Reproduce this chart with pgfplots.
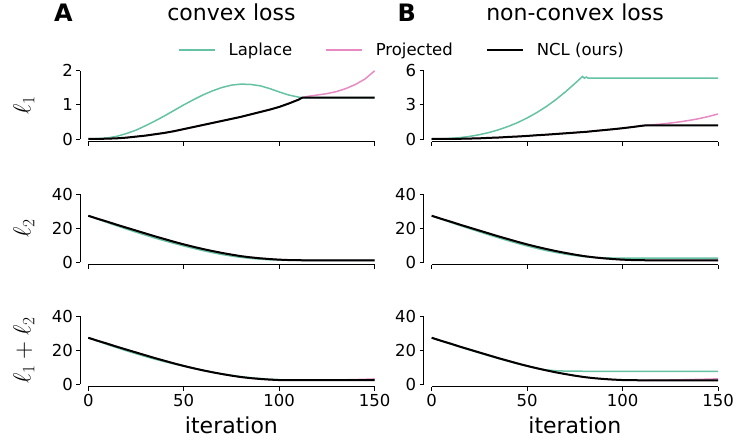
\documentclass[border=0pt]{standalone}
\usepackage{pgfplots}
\pgfplotsset{compat=1.18}
\usepackage{pgfplotstable}
\usepackage{fontspec}
\setmainfont{DejaVu Sans}
\definecolor{lapc}{HTML}{66C2A5}
\definecolor{projc}{HTML}{E78AC3}

\pgfplotstableread{
x lap proj ncl
0 0 0 0
5 0.01 0.003 0.003
10 0.03 0.01 0.01
15 0.08 0.02 0.02
20 0.16 0.04 0.04
25 0.26 0.07 0.07
30 0.39 0.10 0.10
35 0.53 0.14 0.14
40 0.68 0.18 0.18
45 0.84 0.23 0.23
50 1.00 0.29 0.29
55 1.15 0.35 0.35
60 1.29 0.41 0.41
65 1.41 0.47 0.47
70 1.51 0.53 0.53
75 1.58 0.59 0.59
80 1.61 0.65 0.65
85 1.60 0.72 0.72
90 1.56 0.79 0.79
95 1.48 0.86 0.86
100 1.38 0.94 0.94
105 1.29 1.04 1.04
110 1.23 1.15 1.15
112 1.21 1.21 1.21
115 1.21 1.25 1.21
120 1.21 1.29 1.21
125 1.21 1.33 1.21
130 1.21 1.39 1.21
135 1.21 1.48 1.21
140 1.21 1.60 1.21
145 1.21 1.76 1.21
150 1.21 2.00 1.21
}\tabAone

\pgfplotstableread{
x lap proj ncl
0 27.3 27.3 27.3
5 25.3 25.5 25.5
10 23.3 23.8 23.8
15 21.4 22.0 22.0
20 19.5 20.3 20.3
25 17.7 18.6 18.6
30 15.9 16.9 16.9
35 14.2 15.2 15.2
40 12.6 13.6 13.6
45 11.1 12.0 12.0
50 9.6 10.5 10.5
55 8.2 9.1 9.1
60 6.9 7.8 7.8
65 5.7 6.6 6.6
70 4.6 5.5 5.5
75 3.7 4.5 4.5
80 2.9 3.6 3.6
85 2.3 2.9 2.9
90 1.85 2.35 2.35
95 1.5 1.9 1.9
100 1.3 1.55 1.55
105 1.22 1.32 1.32
110 1.2 1.22 1.22
112 1.2 1.2 1.2
120 1.2 1.2 1.2
130 1.2 1.2 1.2
140 1.2 1.2 1.2
150 1.2 1.2 1.2
}\tabAtwo

\pgfplotstableread{
x lap proj ncl
0 27.3 27.3 27.3
5 25.31 25.50 25.50
10 23.33 23.81 23.81
15 21.48 22.02 22.02
20 19.66 20.34 20.34
25 17.96 18.67 18.67
30 16.29 17.00 17.00
35 14.73 15.34 15.34
40 13.28 13.78 13.78
45 11.94 12.23 12.23
50 10.60 10.79 10.79
55 9.35 9.45 9.45
60 8.19 8.21 8.21
65 7.11 7.07 7.07
70 6.11 6.03 6.03
75 5.28 5.09 5.09
80 4.51 4.25 4.25
85 3.90 3.62 3.62
90 3.41 3.14 3.14
95 2.98 2.76 2.76
100 2.68 2.49 2.49
105 2.51 2.40 2.40
110 2.43 2.38 2.38
112 2.41 2.38 2.38
115 2.41 2.42 2.38
120 2.41 2.46 2.38
125 2.41 2.50 2.38
130 2.41 2.56 2.38
135 2.41 2.65 2.38
140 2.41 2.77 2.38
145 2.41 2.93 2.38
150 2.41 3.15 2.38
}\tabAthree

\pgfplotstableread{
x lap proj ncl
0 0 0 0
5 0.013 0.003 0.003
10 0.053 0.01 0.01
15 0.125 0.02 0.02
20 0.232 0.04 0.04
25 0.38 0.06 0.06
30 0.57 0.10 0.10
35 0.81 0.13 0.13
40 1.10 0.18 0.18
45 1.44 0.22 0.22
50 1.85 0.27 0.27
55 2.32 0.33 0.33
60 2.85 0.38 0.38
65 3.46 0.44 0.44
70 4.14 0.50 0.50
75 4.88 0.56 0.56
79 5.50 0.61 0.61
80 5.35 0.62 0.62
81 5.45 0.63 0.63
82 5.35 0.65 0.65
85 5.35 0.70 0.70
90 5.35 0.78 0.78
95 5.35 0.86 0.86
100 5.35 0.95 0.95
105 5.35 1.05 1.05
110 5.35 1.16 1.16
112 5.35 1.20 1.20
115 5.35 1.24 1.20
120 5.35 1.31 1.20
125 5.35 1.40 1.20
130 5.35 1.51 1.20
135 5.35 1.64 1.20
140 5.35 1.79 1.20
145 5.35 1.98 1.20
150 5.35 2.20 1.20
}\tabBone

\pgfplotstableread{
x lap proj ncl
0 27.3 27.3 27.3
5 25.3 25.5 25.5
10 23.4 23.8 23.8
15 21.5 22.0 22.0
20 19.7 20.3 20.3
25 17.9 18.6 18.6
30 16.1 16.9 16.9
35 14.4 15.2 15.2
40 12.7 13.6 13.6
45 11.1 12.0 12.0
50 9.6 10.5 10.5
55 8.2 9.1 9.1
60 6.9 7.8 7.8
65 5.8 6.6 6.6
70 4.8 5.5 5.5
75 4.0 4.5 4.5
80 3.3 3.6 3.6
85 2.85 2.9 2.9
90 2.6 2.35 2.35
95 2.5 1.9 1.9
100 2.45 1.55 1.55
105 2.45 1.32 1.32
110 2.45 1.22 1.22
112 2.45 1.2 1.2
120 2.45 1.2 1.2
130 2.45 1.2 1.2
140 2.45 1.2 1.2
150 2.45 1.2 1.2
}\tabBtwo

\pgfplotstableread{
x lap proj ncl
0 27.3 27.3 27.3
5 25.4 25.50 25.50
10 23.6 23.81 23.81
15 21.8 22.02 22.02
20 20.1 20.34 20.34
25 18.4 18.66 18.66
30 16.75 17.00 17.00
35 15.1 15.33 15.33
40 13.55 13.78 13.78
45 12.05 12.22 12.22
50 10.65 10.77 10.77
55 9.4 9.43 9.43
60 8.45 8.18 8.18
65 7.95 7.04 7.04
70 7.75 6.00 6.00
75 7.68 5.06 5.06
80 7.65 4.22 4.22
85 7.65 3.60 3.60
90 7.65 3.13 3.13
95 7.65 2.76 2.76
100 7.65 2.50 2.50
105 7.65 2.40 2.40
110 7.65 2.36 2.36
112 7.65 2.35 2.35
115 7.65 2.39 2.35
120 7.65 2.45 2.35
125 7.65 2.53 2.35
130 7.65 2.63 2.35
135 7.65 2.75 2.35
140 7.65 2.88 2.35
145 7.65 3.03 2.35
150 7.65 3.20 2.35
}\tabBthree

\pgfplotsset{
  panel/.style={
    scale only axis, width=286.3pt, height=68.2pt,
    anchor=south west,
    xmin=0, xmax=150, ymin=0,
    axis lines=left,
    axis line style={-, line width=0.9pt, black},
    axis x line shift=2.5pt, axis y line shift=8pt,
    tick align=outside, major tick length=4pt,
    tick style={line width=0.9pt, black},
    xtick={0,50,100,150},
    ticklabel style={font=\fontsize{16.5}{19}\selectfont},
    /pgf/number format/assume math mode=true,
    clip=false,
    every axis y label/.style={at={(axis description cs:-0.225,0.5)}, rotate=90, anchor=center, font=\fontsize{23}{26}\selectfont},
    every axis x label/.style={at={(axis description cs:0.5,0)}, anchor=base, yshift=-48.7pt, font=\fontsize{22}{26}\selectfont},
  },
  nolab/.style={xticklabels={}},
  lapl/.style={color=lapc, line width=1.5pt},
  projl/.style={color=projc, line width=1.5pt},
  ncll/.style={color=black, line width=2pt},
}

\begin{document}
\begin{tikzpicture}
\useasboundingbox (0,0) rectangle (733pt,440pt);

% Row 1
\begin{axis}[panel, nolab, at={(88.3pt,301pt)}, ymax=2, ytick={0,1,2}, ylabel={$\ell_1$},
  legend columns=3,
  legend style={at={(1.0957,1.305)}, anchor=center, draw=none, fill=none,
    font=\fontsize{16.5}{19}\selectfont,
    /tikz/every odd column/.append style={column sep=11pt},
    /tikz/every even column/.append style={column sep=31pt}},
  legend image code/.code={\draw[#1] (0pt,0pt) -- (36pt,0pt);}]
\addplot[lapl] table[x=x,y=lap] {\tabAone};
\addlegendentry{Laplace}
\addplot[projl] table[x=x,y=proj] {\tabAone};
\addlegendentry{Projected}
\addplot[ncll] table[x=x,y=ncl] {\tabAone};
\addlegendentry{NCL (ours)}
\end{axis}

\begin{axis}[panel, nolab, at={(431.7pt,301pt)}, ymax=6, ytick={0,3,6}]
\addplot[lapl] table[x=x,y=lap] {\tabBone};
\addplot[projl] table[x=x,y=proj] {\tabBone};
\addplot[ncll] table[x=x,y=ncl] {\tabBone};
\end{axis}

% Row 2
\begin{axis}[panel, nolab, at={(88.3pt,177.7pt)}, ymax=40, ytick={0,20,40}, ylabel={$\ell_2$}]
\addplot[lapl] table[x=x,y=lap] {\tabAtwo};
\addplot[projl] table[x=x,y=proj] {\tabAtwo};
\addplot[ncll] table[x=x,y=ncl] {\tabAtwo};
\end{axis}

\begin{axis}[panel, nolab, at={(431.7pt,177.7pt)}, ymax=40, ytick={0,20,40}]
\addplot[lapl] table[x=x,y=lap] {\tabBtwo};
\addplot[projl] table[x=x,y=proj] {\tabBtwo};
\addplot[ncll] table[x=x,y=ncl] {\tabBtwo};
\end{axis}

% Row 3
\begin{axis}[panel, at={(88.3pt,55.7pt)}, ymax=40, ytick={0,20,40}, ylabel={$\ell_1+\ell_2$}, xlabel={iteration}]
\addplot[lapl] table[x=x,y=lap] {\tabAthree};
\addplot[projl] table[x=x,y=proj] {\tabAthree};
\addplot[ncll] table[x=x,y=ncl] {\tabAthree};
\end{axis}

\begin{axis}[panel, at={(431.7pt,55.7pt)}, ymax=40, ytick={0,20,40}, xlabel={iteration}]
\addplot[lapl] table[x=x,y=lap] {\tabBthree};
\addplot[projl] table[x=x,y=proj] {\tabBthree};
\addplot[ncll] table[x=x,y=ncl] {\tabBthree};
\end{axis}

\node[font=\fontsize{22}{26}\selectfont, anchor=base] at (231.4pt,419.3pt) {convex loss};
\node[font=\fontsize{22}{26}\selectfont, anchor=base] at (575pt,419.3pt) {non-convex loss};
\node[font=\fontsize{24}{28}\selectfont\bfseries, anchor=base] at (63.3pt,418.3pt) {A};
\node[font=\fontsize{24}{28}\selectfont\bfseries, anchor=base] at (406.7pt,418.3pt) {B};
\end{tikzpicture}
\end{document}
